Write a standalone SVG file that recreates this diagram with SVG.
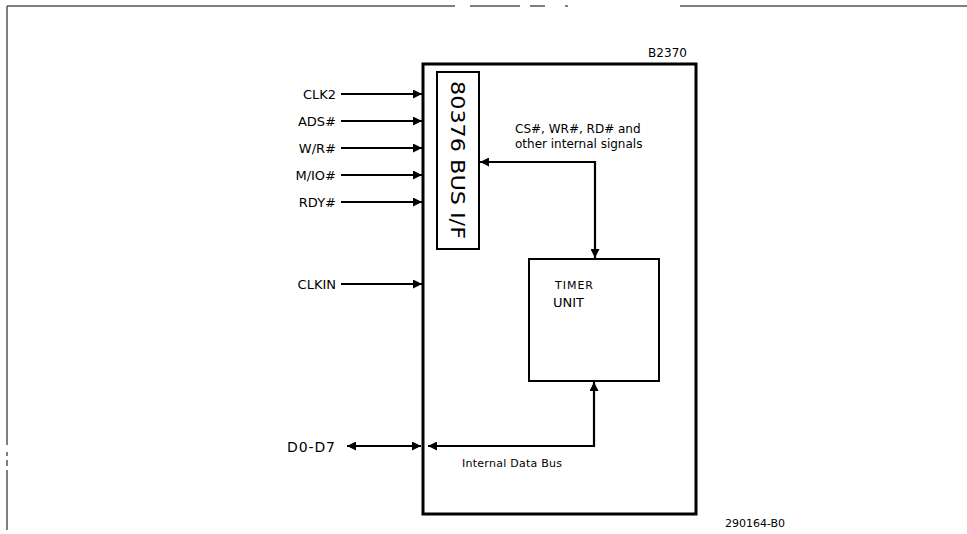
<svg xmlns="http://www.w3.org/2000/svg" width="967" height="534" viewBox="0 0 967 534">
<style>
text{font-family:"DejaVu Sans","Liberation Sans",sans-serif;fill:#000}
.lbl{font-size:13px}
.mid{font-size:12px}
.sm{font-size:11px}
.box{fill:none;stroke:#000}
.ln{fill:none;stroke:#000;stroke-width:2.2}
.frame{fill:none;stroke:#555;stroke-width:1.5}
</style>
<defs>
<marker id="ah" viewBox="0 0 10 10" refX="10" refY="5" markerWidth="10" markerHeight="9" markerUnits="userSpaceOnUse" orient="auto-start-reverse">
<path d="M0,0 L10,5 L0,10 Z" fill="#000"/>
</marker>
</defs>
<rect width="967" height="534" fill="#fff"/>
<g id="frame">
<path class="frame" d="M7,6 H455 M470,6 H520 M530,6 H545 M565,6 H568 M680,6 H967"/>
<path class="frame" d="M7,6 V445 M7,452 V456 M7,460 V466 M7,470 V530"/>
</g>
<g id="main">
<rect class="box" x="423" y="64" width="273" height="450" stroke-width="3"/>
<text x="648" y="57" class="mid" textLength="39">B2370</text>
</g>
<g id="busif">
<rect class="box" x="437" y="72" width="42" height="177" stroke-width="2"/>
<text style="font-size:20px" transform="translate(451,81) rotate(90)" textLength="158" lengthAdjust="spacingAndGlyphs">80376 BUS I/F</text>
</g>
<g id="timer">
<rect class="box" x="529" y="259" width="130" height="122" stroke-width="2"/>
<text x="555" y="289" class="sm" textLength="38">TIMER</text>
<text x="553" y="307" class="lbl" textLength="31">UNIT</text>
</g>
<g id="labels">
<text x="336" y="99" class="lbl" text-anchor="end">CLK2</text>
<text x="336" y="126" class="lbl" text-anchor="end">ADS#</text>
<text x="336" y="153" class="lbl" text-anchor="end">W/R#</text>
<text x="336" y="180" class="lbl" text-anchor="end">M/IO#</text>
<text x="336" y="207" class="lbl" text-anchor="end">RDY#</text>
<text x="336" y="289" class="lbl" text-anchor="end">CLKIN</text>
<text x="287" y="452" style="font-size:14px" textLength="48">D0-D7</text>
<text x="515" y="133" class="mid">CS#, WR#, RD# and</text>
<text x="515" y="148" class="mid">other internal signals</text>
<text x="462" y="467" class="sm" textLength="100">Internal Data Bus</text>
<text x="725" y="527" class="sm">290164-B0</text>
</g>
<g id="connectors">
<path class="ln" d="M341,94 H422" marker-end="url(#ah)"/>
<path class="ln" d="M341,121 H422" marker-end="url(#ah)"/>
<path class="ln" d="M341,148 H422" marker-end="url(#ah)"/>
<path class="ln" d="M341,175 H422" marker-end="url(#ah)"/>
<path class="ln" d="M341,202 H422" marker-end="url(#ah)"/>
<path class="ln" d="M341,284 H422" marker-end="url(#ah)"/>
<path class="ln" d="M347,446 H421" marker-start="url(#ah)" marker-end="url(#ah)"/>
<path class="ln" d="M480,162 H595 V258" marker-start="url(#ah)" marker-end="url(#ah)"/>
<path class="ln" d="M428,446 H594 V382" marker-start="url(#ah)" marker-end="url(#ah)"/>
</g>
</svg>
